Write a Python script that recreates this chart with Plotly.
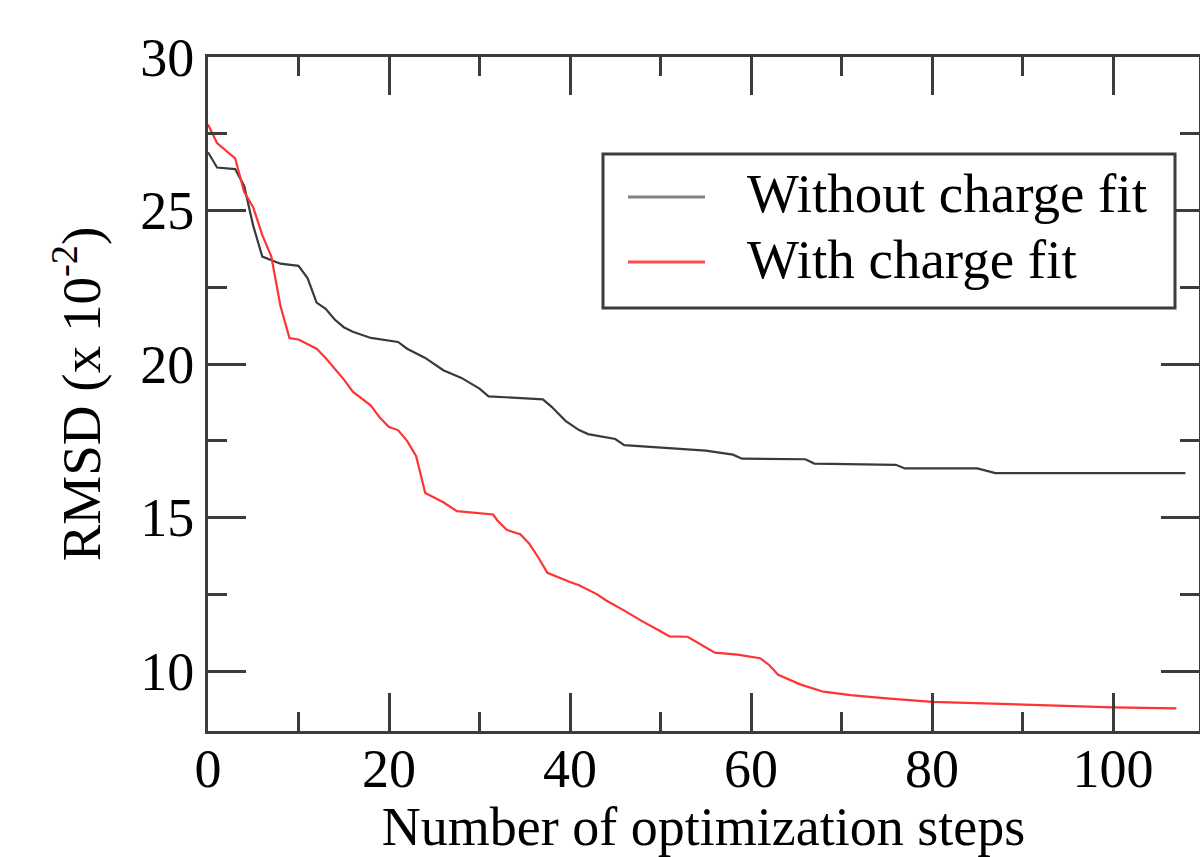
import plotly.graph_objects as go

# ---- data ----
steps_without = [0, 1, 3, 4, 5, 6, 8, 10, 11, 12, 13, 14, 15, 16, 18, 21, 22, 24, 26, 28, 30, 31,
                 37, 38, 39.5, 41, 42, 45, 46, 50, 55, 58, 59, 66, 67, 76, 77, 85, 87, 108]
rmsd_without = [26.9, 26.4, 26.35, 25.8, 24.5, 23.5, 23.27, 23.2, 22.8, 22.0, 21.8, 21.45, 21.2, 21.05,
                20.85, 20.72, 20.5, 20.2, 19.8, 19.55, 19.2, 18.95, 18.85, 18.6, 18.15, 17.85, 17.72,
                17.56, 17.36, 17.27, 17.18, 17.05, 16.92, 16.9, 16.76, 16.72, 16.6, 16.6, 16.45, 16.45]

steps_with = [0, 1, 3, 4, 5, 6, 7, 8, 9, 10, 12, 13, 15, 16, 18, 19, 20, 21, 22, 23, 24, 26, 27.5,
              31.5, 32, 33, 34.5, 35.5, 36.5, 37.5, 40, 41, 43, 44, 46, 48, 50, 51, 53, 54.5, 56,
              58.5, 61, 62, 63, 65.5, 68, 71, 75, 80, 89, 100, 107]
rmsd_with = [27.8, 27.2, 26.7, 25.6, 25.1, 24.2, 23.5, 21.9, 20.85, 20.8, 20.5, 20.2, 19.5, 19.1,
             18.65, 18.25, 17.95, 17.85, 17.5, 17.0, 15.8, 15.5, 15.21, 15.1, 14.9, 14.6, 14.46,
             14.15, 13.7, 13.2, 12.9, 12.8, 12.5, 12.3, 11.97, 11.62, 11.3, 11.13, 11.12, 10.87,
             10.6, 10.54, 10.42, 10.2, 9.88, 9.56, 9.33, 9.22, 9.11, 9.0, 8.92, 8.82, 8.79]

series_names = ["Without charge fit", "With charge fit"]
x_ticks = [0, 20, 40, 60, 80, 100]
y_ticks = [10, 15, 20, 25, 30]

FONT = "Liberation Serif"
FS = 54
BLACK_LINE = "#3a3a3a"
RED_LINE = "#ff3333"
AXIS = "#3c3c3c"

fig = go.Figure()
fig.add_trace(go.Scatter(x=steps_without, y=rmsd_without, mode="lines",
                         line=dict(color=BLACK_LINE, width=2.2), name=series_names[0],
                         showlegend=False))
fig.add_trace(go.Scatter(x=steps_with, y=rmsd_with, mode="lines",
                         line=dict(color=RED_LINE, width=2.2), name=series_names[1],
                         showlegend=False))

L, R, T, B = 208, 1, 57, 126
W, H = 1200, 857
pw = W - L - R
ph = H - T - B

def px(xp):
    return (xp - L) / pw

def py(yp):
    return (H - B - yp) / ph

# manual legend (box, line samples, labels)
fig.add_shape(type="rect", xref="paper", yref="paper",
              x0=px(603), x1=px(1175), y0=py(308), y1=py(154),
              line=dict(color=AXIS, width=3), fillcolor="white", layer="above")
for i, (col, yy) in enumerate([("#808080", 197), ("#ff4b4b", 262)]):
    fig.add_shape(type="line", xref="paper", yref="paper",
                  x0=px(628), x1=px(705), y0=py(yy), y1=py(yy),
                  line=dict(color=col, width=3), layer="above")
    fig.add_annotation(xref="paper", yref="paper", x=px(745), y=py(yy - 3),
                       xanchor="left", yanchor="middle", showarrow=False,
                       text=series_names[i], font=dict(family=FONT, size=FS + 1, color="black"))

axis_common = dict(showline=True, linewidth=3, linecolor=AXIS, mirror="ticks",
                   ticks="inside", ticklen=38, tickwidth=3, tickcolor=AXIS,
                   showgrid=False, zeroline=False,
                   tickfont=dict(family=FONT, size=FS, color="black"))

fig.update_xaxes(range=[0, 109.5], tickvals=x_ticks, **axis_common, ticklabelstandoff=-12,
                 minor=dict(ticks="inside", ticklen=19, tickwidth=3, tickcolor=AXIS, dtick=10, tick0=0),
                 title=dict(text="Number of optimization steps",
                            font=dict(family=FONT, size=FS, color="black"), standoff=10))
fig.update_yaxes(range=[8.05, 30], tickvals=y_ticks, **axis_common,
                 minor=dict(ticks="inside", ticklen=19, tickwidth=3, tickcolor=AXIS, dtick=2.5, tick0=0),
                 title=dict(text="RMSD (x 10<sup>-2</sup>)",
                            font=dict(family=FONT, size=FS + 1, color="black"), standoff=22))

fig.update_layout(width=W, height=H, margin=dict(l=L, r=R, t=T, b=B, autoexpand=False),
                  paper_bgcolor="white", plot_bgcolor="white", showlegend=False)

fig.write_html("out.html")
